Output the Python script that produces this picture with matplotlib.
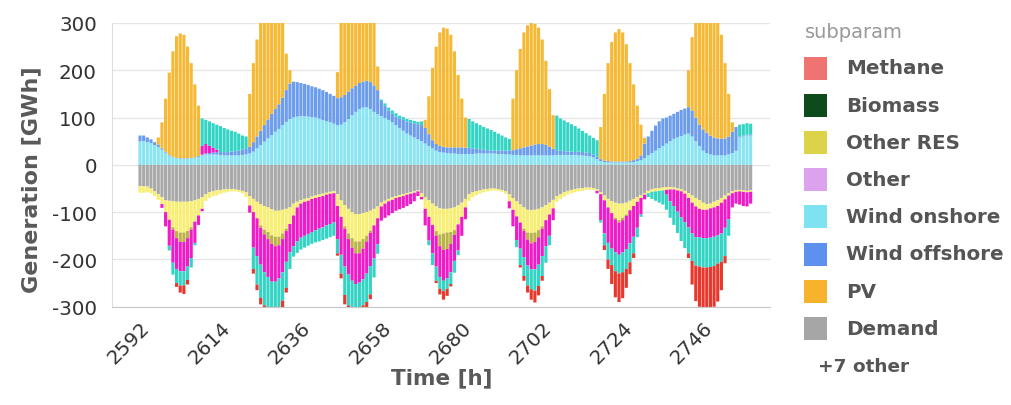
import numpy as np
import matplotlib.pyplot as plt
from matplotlib.patches import Rectangle

plt.rcParams['font.family'] = ['DejaVu Sans']
plt.rcParams['axes.unicode_minus'] = False

hours = np.arange(2592, 2760)

# ---- generation (positive side), GWh per hour ----
wind_onshore = [50, 50, 48, 46, 42, 38, 32, 26, 20, 16, 14, 13, 13, 13, 14, 15, 17, 20, 22, 22, 22, 22, 21, 20,
                20, 20, 20, 20, 21, 22, 24, 28, 35, 42, 49, 56, 63, 70, 76, 84, 91, 97, 100, 102, 103, 103, 102, 101,
                100, 98, 95, 92, 90, 87, 84, 85, 90, 97, 105, 112, 118, 121, 122, 118, 112, 107, 103, 99, 95, 90, 84, 78,
                72, 66, 62, 58, 54, 50, 45, 40, 35, 30, 27, 26, 25, 24, 24, 23, 23, 23, 23, 23, 24, 24, 24, 24,
                24, 24, 23, 23, 22, 22, 21, 21, 20, 20, 20, 20, 20, 20, 20, 20, 20, 20, 21, 21, 21, 21, 21, 21,
                20, 20, 19, 18, 16, 12, 8, 6, 5, 5, 5, 5, 5, 5, 5, 6, 8, 10, 14, 20, 25, 30, 35, 40,
                45, 50, 55, 58, 61, 64, 66, 60, 50, 40, 30, 25, 22, 20, 20, 20, 20, 22, 25, 30, 58, 60, 62, 62]
wind_offshore = [12, 12, 10, 8, 6, 5, 3, 2, 1, 1, 1, 1, 1, 1, 1, 1, 2, 2, 2, 3, 4, 5, 6, 7,
                 7, 8, 9, 10, 11, 13, 14, 20, 25, 30, 35, 40, 45, 48, 52, 58, 67, 75, 76, 73, 70, 68, 67, 65,
                 64, 63, 63, 62, 60, 59, 57, 58, 58, 58, 57, 56, 55, 55, 56, 57, 56, 51, 32, 26, 20, 18, 18, 20,
                 23, 26, 28, 30, 32, 34, 33, 25, 17, 14, 13, 12, 12, 13, 13, 14, 14, 13, 13, 12, 10, 9, 8, 7,
                 6, 6, 7, 7, 8, 8, 10, 12, 15, 17, 19, 21, 23, 24, 24, 22, 18, 14, 10, 9, 8, 7, 7, 6,
                 8, 7, 7, 7, 6, 5, 4, 3, 3, 2, 2, 2, 2, 2, 3, 4, 5, 10, 31, 40, 47, 53, 57, 58,
                 55, 54, 53, 54, 55, 55, 56, 55, 50, 45, 45, 43, 40, 38, 36, 35, 36, 38, 45, 50, 2, 2, 2, 2]
other_pos = [0] * 17 + [18, 20, 15, 10, 5] + [0] * 146
storage_out = [0] * 17 + [58, 51, 52, 52, 53, 55, 51,
               48, 44, 41, 36, 30, 25] + [0] * 36 + [3, 5, 6, 7, 7, 6,
               6, 5, 5, 5, 5, 8] + [0] * 12 + [61, 57, 54, 51, 48, 46,
               44, 40, 36, 32, 28, 25] + [0] * 12 + [73, 68, 65, 62, 58, 55,
               49, 45, 41, 37, 35, 35] + [0] * 38 + [25, 24, 24, 23]
pv = ([0] * 5 + [15, 55, 112, 174, 223, 257, 264, 261, 236, 200, 154, 106] + [0] * 13
      + [112, 167, 205, 233, 250, 262, 265, 260, 210, 165, 77, 28] + [0] * 12
      + [55, 157, 175, 195, 205, 210, 205, 195, 180, 160, 135, 50] + [0] * 12
      + [17, 80, 153, 206, 240, 252, 251, 238, 203, 153, 103, 64] + [0] * 12
      + [109, 167, 210, 243, 256, 259, 255, 246, 221, 178, 122, 71] + [0] * 12
      + [68, 141, 207, 253, 273, 280, 273, 248, 207, 160, 112, 65, 12] + [0] * 11
      + [78, 155, 220, 250, 270, 280, 283, 272, 249, 220, 159, 90, 20] + [0] * 5)

# ---- consumption (negative side), magnitudes ----
demand = [45, 45, 46, 50, 56, 62, 68, 75, 76, 77, 78, 78, 78, 78, 77, 75, 72, 68, 62, 58, 56, 54, 53, 52,
          51, 51, 52, 53, 55, 58, 66, 72, 78, 83, 87, 90, 94, 97, 97, 95, 93, 90, 82, 78, 75, 72, 70, 67,
          65, 63, 61, 59, 57, 56, 62, 75, 85, 93, 100, 104, 104, 102, 100, 97, 93, 88, 80, 76, 72, 69, 66, 64,
          62, 60, 58, 56, 54, 60, 68, 75, 82, 88, 92, 93, 93, 92, 90, 86, 80, 72, 62, 58, 56, 54, 52, 51,
          50, 50, 51, 53, 56, 62, 70, 77, 84, 90, 95, 96, 95, 93, 90, 85, 80, 74, 66, 62, 58, 55, 53, 51,
          50, 49, 48, 48, 49, 52, 58, 65, 72, 77, 80, 82, 82, 80, 76, 72, 68, 64, 60, 55, 52, 50, 49, 48,
          47, 47, 48, 50, 52, 55, 60, 65, 70, 75, 80, 83, 82, 78, 75, 70, 65, 60, 56, 54, 53, 54, 55, 54]
electrolysis = [14, 14, 12, 10, 10, 12, 15, 25, 40, 55, 62, 65, 65, 62, 55, 45, 35, 25, 14, 12, 10, 10, 8, 7,
                6, 5, 4, 4, 5, 10, 20, 28, 35, 45, 50, 52, 55, 55, 55, 50, 42, 35, 25, 12, 7, 6, 6, 5,
                5, 5, 5, 4, 4, 4, 25, 35, 45, 52, 55, 58, 58, 55, 50, 42, 35, 25, 8, 6, 5, 5, 4, 4,
                4, 3, 3, 3, 2, 8, 25, 35, 45, 52, 55, 52, 50, 50, 48, 40, 30, 18, 14, 10, 8, 7, 6, 5,
                5, 4, 4, 4, 5, 15, 25, 32, 38, 45, 48, 48, 48, 45, 40, 32, 25, 18, 12, 10, 9, 8, 7, 7,
                6, 6, 5, 5, 4, 3, 4, 10, 18, 25, 32, 35, 30, 25, 20, 15, 10, 6, 3, 5, 5, 6, 6, 6,
                6, 5, 4, 4, 4, 6, 10, 15, 18, 18, 15, 12, 10, 12, 12, 10, 8, 5, 4, 3, 3, 3, 3, 3]
heat = ([0] * 9 + [5, 15, 20, 20, 15, 5] + [0] * 18 + [5, 10, 15, 18, 20, 18, 12, 5] + [0] * 15
        + [5, 12, 20, 25, 25, 20, 12, 5] + [0] * 17 + [10, 25, 35, 35, 25, 10] + [0] * 18
        + [5, 15, 22, 20, 15, 5] + [0] * 19 + [3, 5, 5, 3] + [0] * 34)
export = [0, 0, 0, 0, 0, 0, 8, 30, 55, 70, 65, 62, 62, 60, 60, 45, 20, 5, 0, 0, 0, 0, 0, 0,
          0, 0, 0, 0, 0, 0, 15, 75, 80, 78, 80, 80, 80, 75, 70, 70, 65, 60, 65, 72, 72, 72, 70, 70,
          68, 67, 66, 65, 64, 62, 70, 80, 80, 75, 70, 65, 62, 65, 68, 70, 70, 55, 30, 30, 30, 28, 27, 26,
          25, 24, 22, 18, 10, 5, 35, 50, 60, 65, 65, 65, 62, 60, 55, 55, 40, 25, 0, 0, 0, 0, 0, 0,
          0, 0, 0, 0, 0, 15, 35, 50, 55, 55, 55, 55, 58, 58, 58, 55, 45, 25, 0, 0, 0, 0, 0, 0,
          0, 0, 0, 0, 0, 5, 55, 70, 75, 75, 70, 68, 68, 70, 70, 65, 55, 35, 10, 0, 0, 0, 0, 0,
          10, 25, 35, 45, 55, 60, 62, 65, 65, 60, 60, 60, 62, 62, 62, 65, 60, 50, 30, 25, 28, 30, 30, 25]
storage_in = [0, 0, 0, 0, 0, 0, 0, 0, 10, 25, 30, 30, 30, 28, 20, 5, 0, 0, 0, 0, 0, 0, 0, 0,
              0, 0, 0, 0, 0, 0, 0, 45, 60, 70, 70, 70, 65, 65, 60, 60, 55, 35, 22, 24, 25, 25, 25, 25,
              26, 27, 27, 28, 28, 28, 30, 40, 60, 65, 60, 55, 55, 55, 60, 60, 40, 20, 0, 0, 0, 0, 0, 0,
              0, 0, 0, 0, 0, 0, 0, 10, 25, 30, 25, 22, 22, 25, 25, 10, 0, 0, 0, 0, 0, 0, 0, 0,
              0, 0, 0, 0, 0, 0, 0, 15, 35, 40, 42, 42, 45, 45, 42, 35, 20, 0, 0, 0, 0, 0, 0, 0,
              0, 0, 0, 0, 0, 0, 5, 25, 35, 35, 40, 40, 42, 42, 40, 35, 20, 5, 0, 8, 15, 20, 25, 30,
              32, 35, 40, 45, 50, 55, 55, 58, 60, 62, 62, 62, 62, 62, 60, 60, 60, 35, 0, 0, 0, 0, 0, 0]
methane = ([0] * 10 + [8, 15, 18, 10] + [0] * 17 + [10, 12, 14, 18, 20, 20, 20, 20, 15, 10] + [0] * 13
           + [5, 10, 20, 25, 25, 25, 25, 20, 15, 10] + [0] * 17 + [5, 12, 18, 15, 5] + [0] * 18
           + [5, 10, 15, 22, 25, 20, 10] + [0] * 16 + [10, 20, 40, 55, 60, 55, 40, 25, 10] + [0] * 14
           + [10, 50, 75, 85, 85, 85, 85, 86, 80, 60, 15] + [0] * 7)

legend_names = ['Methane', 'Biomass', 'Other RES', 'Other', 'Wind onshore', 'Wind offshore', 'PV', 'Demand']
legend_colors = ['#EF7370', '#0D4A1C', '#DCD348', '#DDA2EE', '#7FE2F0', '#5E90EE', '#F7B32B', '#A6A6A6']

W, H = 1011, 406
fig = plt.figure(figsize=(W / 100, H / 100), dpi=100)
ax = fig.add_axes([0.111, 0.242, 0.651, 0.699])

w = 0.86
pos_series = [(wind_onshore, '#8BE4F1'), (wind_offshore, '#6C9CEC'), (other_pos, '#EC1EC4'),
              (storage_out, '#34D4C4'), (pv, '#F6B936')]
bottom = np.zeros(len(hours))
for vals, col in pos_series:
    vals = np.array(vals, dtype=float)
    ax.bar(hours, vals, width=w, bottom=bottom, color=col, linewidth=0, zorder=2, snap=False)
    bottom += vals

neg_series = [(demand, '#A9A9A9'), (electrolysis, '#F7EE72'), (heat, '#BCB348'), (export, '#EE1BC6'),
              (storage_in, '#34D4C4'), (methane, '#E8382D')]
bottom = np.zeros(len(hours))
for vals, col in neg_series:
    vals = -np.array(vals, dtype=float)
    ax.bar(hours, vals, width=w, bottom=bottom, color=col, linewidth=0, zorder=2, snap=False)
    bottom += vals

ax.set_ylim(-300, 300)
ax.set_xlim(2584.4, 2764.4)
ax.set_yticks(np.arange(-300, 301, 100))
ax.set_xticks(np.arange(2592, 2760, 22))
ax.grid(axis='y', color='#E6E6E6', linewidth=1, zorder=0)
ax.set_axisbelow(True)
for s in ['top', 'right']:
    ax.spines[s].set_visible(False)
ax.spines['left'].set_color('#DDDDDD')
ax.spines['bottom'].set_color('#C8C8C8')
ax.tick_params(axis='both', length=0, labelsize=14.3, colors='#333333')
ax.tick_params(axis='y', pad=11)
ax.tick_params(axis='x', pad=8)
plt.setp(ax.get_xticklabels(), rotation=45, ha='right', rotation_mode='anchor')

ax.set_ylabel('Generation [GWh]', fontsize=16, fontweight='bold', color='#595959')
ax.set_xlabel('Time [h]', fontsize=15.5, fontweight='bold', color='#595959')
ax.yaxis.set_label_coords(-0.108, 0.45)
ax.xaxis.set_label_coords(0.5, -0.215)

# legend drawn by hand so rows sit where the original has them
fig.text(805 / W, 1 - 32 / H, 'subparam', fontsize=14, color='#999999', va='center')
for i, (name, col) in enumerate(zip(legend_names, legend_colors)):
    yc = 69 + i * 37.2
    fig.add_artist(Rectangle((804 / W, 1 - (yc + 11.5) / H), 23 / W, 23 / H,
                             transform=fig.transFigure, facecolor=col, edgecolor='none'))
    fig.text(846 / W, 1 - yc / H, name, fontsize=14.3, fontweight='bold', color='#555555', va='center')
fig.text(818 / W, 1 - 367 / H, '+7 other', fontsize=13.3, fontweight='bold', color='#555555', va='center')

fig.savefig('out.png', dpi=100)
